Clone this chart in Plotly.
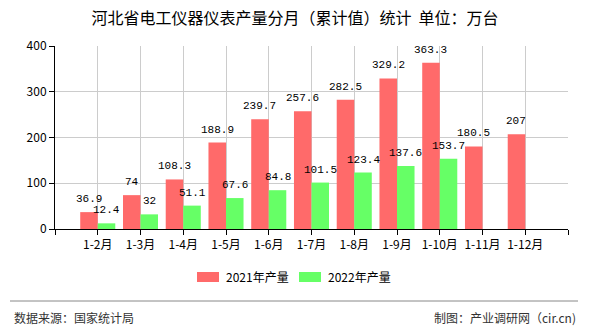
import plotly.graph_objects as go

# Monthly cumulative output of electrical instruments in Hebei (unit: 10k units)
months = ["1-2月", "1-3月", "1-4月", "1-5月", "1-6月", "1-7月", "1-8月",
          "1-9月", "1-10月", "1-11月", "1-12月"]
output_2021 = [36.9, 74, 108.3, 188.9, 239.7, 257.6, 282.5, 329.2, 363.3, 180.5, 207]
output_2022 = [12.4, 32, 51.1, 67.6, 84.8, 101.5, 123.4, 137.6, 153.7, None, None]
y_ticks = [0, 100, 200, 300, 400]
series_names = ["2021年产量", "2022年产量"]

pos = list(range(len(months)))

RED = "#FF6A6A"
GREEN = "#66FF66"
CJK = "Noto Sans CJK SC"
MONO = "Liberation Mono"
BARGAP = 0.18
HALF = (1 - BARGAP) / 4  # offset of each bar centre from its category

# plot area in pixels
L, R, T, B = 55, 568, 46, 229
W, H = R - L, B - T

def px_x(x):
    return (x - L) / W

def px_y(y):
    return (B - y) / H

def fmt(v):
    return "" if v is None else f"{v:g}"

fig = go.Figure()
for k, (vals, name, color) in enumerate([(output_2021, series_names[0], RED),
                                         (output_2022, series_names[1], GREEN)]):
    fig.add_trace(go.Bar(
        x=pos, y=vals, name=name, marker_color=color, marker_line_width=0,
        showlegend=False,
    ))
    # value labels above each bar
    shift = -HALF if k == 0 else HALF
    for i, v in zip(pos, vals):
        if v is None:
            continue
        fig.add_annotation(x=i + shift, y=v, text=fmt(v), xref="x", yref="y",
                           xanchor="center", yanchor="bottom", yshift=5,
                           showarrow=False,
                           font=dict(family=MONO, size=11, color="#000"))

tickvals = [-1] + pos + [len(months)]
ticktext = [""] + months + [""]

fig.update_layout(
    width=590, height=330,
    margin=dict(l=L, r=590 - R, t=T, b=330 - B),
    paper_bgcolor="white", plot_bgcolor="white",
    barmode="group", bargap=BARGAP, bargroupgap=0,
    font=dict(family=CJK, size=12, color="#000"),
    title=dict(text="河北省电工仪器仪表产量分月（累计值）统计  单位：万台",
               x=0.5, xanchor="center", y=1 - 18 / 330, yanchor="middle",
               font=dict(family=CJK, size=16, color="#000")),
    showlegend=False,
)
fig.update_xaxes(
    range=[-1, len(months)], tickmode="array", tickvals=tickvals, ticktext=ticktext,
    showgrid=True, gridcolor="#CCCCCC", gridwidth=1,
    showline=True, linecolor="#000", linewidth=1,
    ticks="outside", ticklen=5, tickcolor="#000",
    tickfont=dict(family=CJK, size=12, color="#000"), zeroline=False,
)
fig.update_yaxes(
    range=[0, 400], tickmode="array", tickvals=y_ticks,
    showgrid=True, gridcolor="#CCCCCC", gridwidth=1,
    showline=True, linecolor="#000", linewidth=1,
    ticks="outside", ticklen=5, tickcolor="#000",
    tickfont=dict(family=CJK, size=12, color="#000"), zeroline=False,
)

# legend: wide colour swatches with labels
for (x0, x1, tx), name, color in [((197, 219, 224), series_names[0], RED),
                                  ((299, 321, 326), series_names[1], GREEN)]:
    fig.add_shape(type="rect", xref="paper", yref="paper",
                  x0=px_x(x0), x1=px_x(x1), y0=px_y(282), y1=px_y(272),
                  fillcolor=color, line_width=0)
    fig.add_annotation(text=name, xref="paper", yref="paper",
                       x=px_x(tx), y=px_y(276), xanchor="left", yanchor="middle",
                       showarrow=False, font=dict(family=CJK, size=12, color="#000"))

# footer separator and source notes
fig.add_shape(type="line", xref="paper", yref="paper",
              x0=px_x(10), x1=px_x(578), y0=px_y(301), y1=px_y(301),
              line=dict(color="#888888", width=1))
fig.add_annotation(text="数据来源：国家统计局", xref="paper", yref="paper",
                   x=px_x(12), y=px_y(317), xanchor="left", yanchor="middle",
                   showarrow=False, font=dict(family=CJK, size=12, color="#333"))
fig.add_annotation(text="制图：产业调研网（cir.cn)", xref="paper", yref="paper",
                   x=px_x(578), y=px_y(317), xanchor="right", yanchor="middle",
                   showarrow=False, font=dict(family=CJK, size=12, color="#333"))

fig.write_html("out.html")
